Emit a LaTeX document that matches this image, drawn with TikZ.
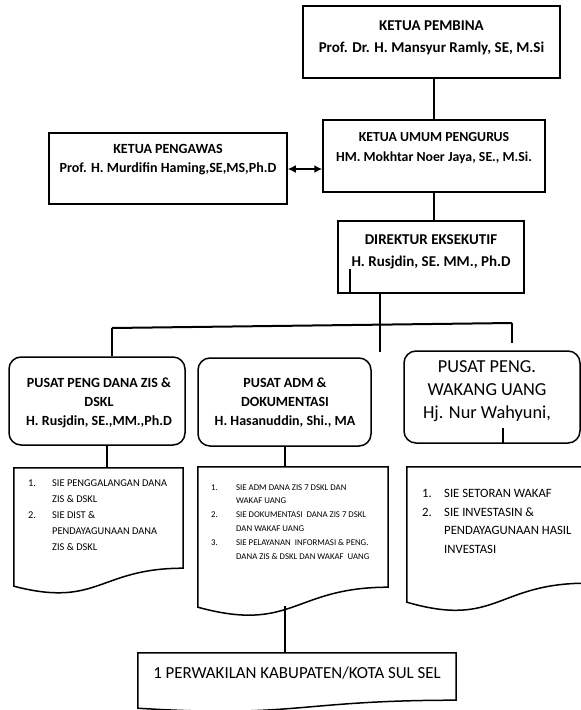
\documentclass[tikz,border=0pt]{standalone}
\usepackage{fontspec}
\setmainfont{Carlito}
\usetikzlibrary{arrows.meta,calc}
\begin{document}
\begin{tikzpicture}[x=1pt,y=-1pt,
  box/.style={draw, line width=1.5pt, inner sep=0pt},
  rbox/.style={box, rounded corners=12pt},
  area/.style={inner sep=0pt},
  conn/.style={line width=2pt},
  ttl/.style={align=center, inner sep=0pt, font=\fontsize{14}{21}\selectfont\bfseries},
  sub/.style={align=center, inner sep=0pt, font=\fontsize{14}{19}\selectfont\bfseries},
  big/.style={align=center, inner sep=0pt, font=\fontsize{18.3}{23}\selectfont},
  lst/.style={anchor=base west, inner sep=0pt}]
\useasboundingbox (0,0) rectangle (581,710);
\clip (0,0) rectangle (581,710);

% top boxes
\node[box, minimum width=257pt, minimum height=72pt] (pembina) at (431.5,42) {};
\node[ttl, font=\fontsize{15}{22}\selectfont\bfseries] (pembinaT) at (431.5,37.5) {KETUA PEMBINA\\Prof. Dr. H. Mansyur Ramly, SE, M.Si};

\node[box, minimum width=222pt, minimum height=72pt] (umum) at (434,156) {};
\node[ttl, font=\fontsize{13.8}{20}\selectfont\bfseries] (umumT) at (434,148) {KETUA UMUM PENGURUS\\HM. Mokhtar Noer Jaya, SE., M.Si.};

\node[box, minimum width=238pt, minimum height=71pt] (peng) at (168,168.5) {};
\node[ttl, font=\fontsize{14}{19}\selectfont\bfseries] (pengT) at (168,160) {KETUA PENGAWAS\\Prof. H. Murdifin Haming,SE,MS,Ph.D};

\node[box, minimum width=186pt, minimum height=72pt] (dir) at (431,257) {};
\node[ttl, font=\fontsize{15}{22}\selectfont\bfseries] (dirT) at (431,252) {DIREKTUR EKSEKUTIF\\H. Rusjdin, SE. MM., Ph.D};

% second row
\node[rbox, minimum width=176pt, minimum height=88pt] (b1) at (97,401) {};
\node[sub] (b1T) at (99,403) {PUSAT PENG DANA ZIS \&\\DSKL\\H. Rusjdin, SE.,MM.,Ph.D};

\node[rbox, minimum width=173pt, minimum height=88pt] (b2) at (284.5,402) {};
\node[sub] (b2T) at (285,403) {PUSAT ADM \&\\DOKUMENTASI\\H. Hasanuddin, Shi., MA};

\node[rbox, minimum width=176pt, minimum height=92pt] (b3) at (492,397) {};
\node[big] (b3T) at (487,391) {PUSAT PENG.\\WAKANG UANG\\Hj. Nur Wahyuni,};

% document shapes (rectangular part as nodes)
\node[area, minimum width=169pt, minimum height=100pt] (d1) at (98.5,518) {};
\draw[line width=1.5pt] (d1.south east) .. controls (d1.south) and ($(d1.south)+(0,40)$) .. ($(d1.south west)+(0,18)$) -- (d1.north west) -- (d1.north east) -- cycle;
\node[area, minimum width=190pt, minimum height=120pt] (d2) at (293,527) {};
\draw[line width=1.5pt] (d2.south east) .. controls (d2.south) and ($(d2.south)+(0,46)$) .. ($(d2.south west)+(0,20)$) -- (d2.north west) -- (d2.north east) -- cycle;
\node[area, minimum width=179pt, minimum height=116pt] (d3) at (496.5,525) {};
\draw[line width=1.5pt] (d3.south east) .. controls (d3.south) and ($(d3.south)+(0,45)$) .. ($(d3.south west)+(0,19)$) -- (d3.north west) -- (d3.north east) -- cycle;
\node[area, minimum width=318pt, minimum height=47pt] (last) at (297,676.5) {};
\draw[line width=1.5pt] (last.south east) .. controls (last.south) and ($(last.south)+(0,18)$) .. ($(last.south west)+(0,8)$) -- (last.north west) -- (last.north east) -- cycle;
\node[inner sep=0pt, font=\fontsize{16.9}{20}\selectfont] (lastT) at (297,673) {1 PERWAKILAN KABUPATEN/KOTA SUL SEL};

% lists
\node[lst, font=\fontsize{10.4}{16}\selectfont] (l1) at (28,486.5) {\begin{tabular}[t]{@{}p{24pt}@{}l@{}}
1. & SIE PENGGALANGAN DANA\\
   & ZIS \& DSKL\\
2. & SIE DIST \&\\
   & PENDAYAGUNAAN DANA\\
   & ZIS \& DSKL
\end{tabular}};
\node[lst, font=\fontsize{8.8}{13.8}\selectfont] (l2) at (211,490) {\begin{tabular}[t]{@{}p{25pt}@{}l@{}}
1. & SIE ADM DANA ZIS 7 DSKL DAN\\
   & WAKAF UANG\\
2. & SIE DOKUMENTASI\ \ DANA ZIS 7 DSKL\\
   & DAN WAKAF UANG\\
3. & SIE PELAYANAN\ \ INFORMASI \& PENG.\\
   & DANA ZIS \& DSKL DAN WAKAF\ \ UANG
\end{tabular}};
\node[lst, font=\fontsize{12.7}{18.5}\selectfont] (l3) at (422,497.5) {\begin{tabular}[t]{@{}p{22pt}@{}l@{}}
1. & SIE SETORAN WAKAF\\
2. & SIE INVESTASIN \&\\
   & PENDAYAGUNAAN HASIL\\
   & INVESTASI
\end{tabular}};

% connectors
\coordinate (hub) at (380,352);
\coordinate (hl) at (112,328);
\coordinate (hr) at (512,323);
\coordinate (hrend) at (512,343);
\coordinate (dstray) at (350,269);
\coordinate (b3stray) at (503,428);
\coordinate (d2out) at (285,606);

\draw[conn] (pembina.south -| umum.north) -- (umum.north);
\draw[conn] (umum.south) -- (umum.south |- dir.north);
\draw[conn, {Latex[length=8pt,width=8pt]}-{Latex[length=8pt,width=8pt]}] (peng.east |- 0,169) -- (umum.west |- 0,169);
\draw[conn] (dir.south -| hub) -- (hub);
\draw[conn] (hl) -- (hr);
\draw[conn] (hl) -- (hl |- b1.north);
\draw[conn] (hr) -- (hrend);
\draw[line width=1.2pt] (dstray) -- (dstray |- dir.south);
\draw[conn] (b1.south -| 107,0) -- (d1.north -| 107,0);
\draw[conn] (b2.south -| 285,0) -- (d2.north -| 285,0);
\draw[line width=1.2pt] (b3stray) -- (b3stray |- b3.south);
\draw[conn] (d2out) -- (d2out |- last.north);
\end{tikzpicture}
\end{document}
